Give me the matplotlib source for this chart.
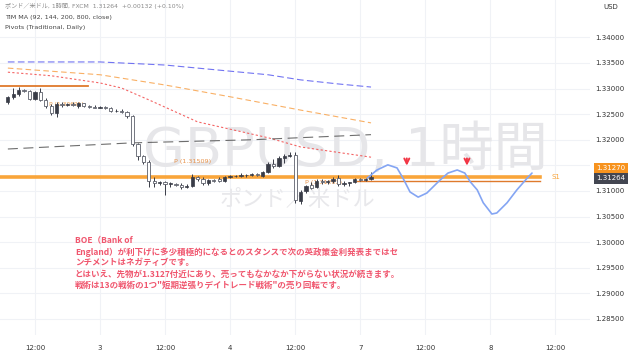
import matplotlib
matplotlib.use("Agg")
import matplotlib.pyplot as plt

plt.rcParams['font.family'] = ['DejaVu Sans', 'Noto Sans CJK JP']

# ---- data (hourly bars, index 0 = day 3 00:00) ----
bar_idx = list(range(-17, 51))
opens = [1.3274, 1.3284, 1.3290, 1.3297, 1.3295, 1.3280, 1.3293, 1.3278, 1.3266, 1.3252,
         1.3270, 1.3268, 1.3270, 1.3266, 1.3272, 1.3266, 1.3264, 1.3263, 1.3264, 1.3262,
         1.3256, 1.3256, 1.3254, 1.3246, 1.3192, 1.3168, 1.3157, 1.3120, 1.3116, 1.3118,
         1.3114, 1.3114, 1.3112, 1.3108, 1.3110, 1.3127, 1.3123, 1.3116, 1.3122, 1.3123,
         1.3120, 1.3127, 1.3129, 1.3129, 1.3131, 1.3131, 1.3133, 1.3129, 1.3137, 1.3153,
         1.3149, 1.3164, 1.3168, 1.3170, 1.3080, 1.3100, 1.3112, 1.3108, 1.3120, 1.3118,
         1.3120, 1.3125, 1.3114, 1.3116, 1.3118, 1.3123, 1.3121, 1.3123]
highs = [1.3285, 1.3301, 1.3303, 1.3299, 1.3297, 1.3295, 1.3301, 1.3282, 1.3270, 1.3274,
         1.3274, 1.3272, 1.3274, 1.3274, 1.3272, 1.3268, 1.3268, 1.3266, 1.3266, 1.3264,
         1.3260, 1.3260, 1.3256, 1.3248, 1.3194, 1.3170, 1.3160, 1.3127, 1.3120, 1.3120,
         1.3118, 1.3116, 1.3116, 1.3114, 1.3133, 1.3129, 1.3127, 1.3123, 1.3123, 1.3127,
         1.3129, 1.3131, 1.3131, 1.3135, 1.3133, 1.3135, 1.3135, 1.3139, 1.3157, 1.3162,
         1.3168, 1.3172, 1.3176, 1.3176, 1.3102, 1.3112, 1.3117, 1.3123, 1.3123, 1.3121,
         1.3127, 1.3131, 1.3120, 1.3118, 1.3125, 1.3125, 1.3125, 1.3137]
lows = [1.3270, 1.3280, 1.3286, 1.3293, 1.3278, 1.3278, 1.3276, 1.3262, 1.3248, 1.3245,
        1.3264, 1.3266, 1.3266, 1.3262, 1.3264, 1.3262, 1.3262, 1.3262, 1.3260, 1.3254,
        1.3254, 1.3252, 1.3243, 1.3188, 1.3160, 1.3153, 1.3107, 1.3108, 1.3112, 1.3092,
        1.3108, 1.3110, 1.3104, 1.3106, 1.3108, 1.3120, 1.3112, 1.3112, 1.3118, 1.3118,
        1.3118, 1.3125, 1.3127, 1.3127, 1.3127, 1.3129, 1.3129, 1.3127, 1.3135, 1.3145,
        1.3147, 1.3155, 1.3166, 1.3077, 1.3075, 1.3096, 1.3104, 1.3106, 1.3114, 1.3114,
        1.3116, 1.3110, 1.3110, 1.3110, 1.3116, 1.3120, 1.3120, 1.3121]
closes = [1.3284, 1.3290, 1.3297, 1.3295, 1.3280, 1.3293, 1.3278, 1.3266, 1.3252, 1.3270,
          1.3268, 1.3270, 1.3268, 1.3272, 1.3266, 1.3264, 1.3263, 1.3264, 1.3262, 1.3256,
          1.3256, 1.3255, 1.3246, 1.3192, 1.3168, 1.3157, 1.3120, 1.3116, 1.3118, 1.3114,
          1.3114, 1.3112, 1.3108, 1.3110, 1.3127, 1.3123, 1.3116, 1.3122, 1.3120, 1.3120,
          1.3127, 1.3129, 1.3129, 1.3131, 1.3131, 1.3133, 1.3131, 1.3137, 1.3153, 1.3149,
          1.3164, 1.3168, 1.3170, 1.3082, 1.3098, 1.3110, 1.3106, 1.3120, 1.3118, 1.3120,
          1.3123, 1.3114, 1.3116, 1.3118, 1.3123, 1.3121, 1.3123, 1.31264]

# moving averages (read at a few bars)
ma_blue_x = [-17, 0, 12, 24, 31, 37, 44, 50]
ma_blue_y = [1.3352, 1.3352, 1.3346, 1.3334, 1.3327, 1.3317, 1.3309, 1.3303]
ma_orange_x = [-17, 0, 12, 24, 37, 50]
ma_orange_y = [1.3340, 1.3327, 1.3307, 1.3284, 1.3258, 1.3233]
ma_red_x = [-17, -9, 0, 4, 9, 18, 31, 37, 50]
ma_red_y = [1.3332, 1.3325, 1.3311, 1.3301, 1.3278, 1.3235, 1.3204, 1.3186, 1.3166]
ma_dark_x = [-17, 6, 28, 50]
ma_dark_y = [1.3182, 1.3194, 1.3200, 1.3210]

# forecast path
fc_x = [49.3, 51.1, 53.1, 54.8, 55.9, 57.2, 58.7, 60.3, 62.7, 64.2, 65.9, 67.3, 68.3,
        69.6, 70.7, 72.3, 73.2, 75.1, 76.9, 78.8, 79.7]
fc_y = [1.3125, 1.3141, 1.3151, 1.3145, 1.3125, 1.3098, 1.3088, 1.3096, 1.3121, 1.3135,
        1.3141, 1.3135, 1.3118, 1.3102, 1.3077, 1.3055, 1.3057, 1.3077, 1.3102, 1.3125, 1.3135]
arrow_x = [56.6, 67.7]

level_price = 1.3127
pivot_r_price = 1.3305
pivot_mon_price = 1.31195
last_price = 1.31264

x_ticks = [-12, 0, 12, 24, 36, 48, 60, 72, 84]
x_labels = ["12:00", "3", "12:00", "4", "12:00", "7", "12:00", "8", "12:00"]
y_ticks = [1.285, 1.290, 1.295, 1.300, 1.305, 1.310, 1.315, 1.320, 1.325, 1.330, 1.335, 1.340]

W, H = 631, 355
fig = plt.figure(figsize=(W / 100, H / 100), dpi=100)
fig.patch.set_facecolor('white')
ax = fig.add_axes([0, 20 / H, 590 / W, 335 / H])
ax.set_xlim(-18.45, 90.4)
ax.set_ylim(1.28187, 1.34730)
for s in ax.spines.values():
    s.set_visible(False)

grid_c = '#f0f2f6'
for yt in y_ticks:
    ax.axhline(yt, color=grid_c, lw=0.8, zorder=0)
for xt in x_ticks:
    ax.axvline(xt, color=grid_c, lw=0.8, zorder=0)

# watermark
ax.text(45.2, 1.3178, "GBPUSD, 1時間", fontsize=39, color='#e6e6e9', ha='center',
        va='center', zorder=0.5)
ax.text(36.5, 1.30824, "ポンド／米ドル", fontsize=16, color='#e8e8eb', ha='center',
        va='center', zorder=0.5, family=['Noto Sans CJK JP', 'DejaVu Sans'])

# moving averages
ax.plot(ma_blue_x, ma_blue_y, color='#5a5cf0', lw=0.8, dashes=(6, 3), alpha=0.85, zorder=2)
ax.plot(ma_orange_x, ma_orange_y, color='#f8a24a', lw=0.8, dashes=(5, 3), alpha=0.85, zorder=2)
ax.plot(ma_red_x, ma_red_y, color='#f24a4a', lw=0.8, dashes=(2, 2), alpha=0.85, zorder=2)
ax.plot(ma_dark_x, ma_dark_y, color='#555555', lw=0.8, dashes=(9, 5), alpha=0.85, zorder=2)

# pivots / levels
ax.axhline(level_price, xmin=0, xmax=(81.1 + 18.45) / (90.4 + 18.45), color='#f9a53a',
           lw=2.6, zorder=2)
ax.plot([-18.45, -2.2], [pivot_r_price, pivot_r_price], color='#df7a2c', lw=1.3, zorder=2)
ax.plot([47.5, 81.1], [pivot_mon_price, pivot_mon_price], color='#df7a2c', lw=1.0, zorder=2)
ax.text(-9.5, 1.3269, "P (1.32691)", fontsize=4.3, color='#e89a4a', va='center', zorder=2)
ax.text(13.6, 1.3158, "P (1.31509)", fontsize=4.6, color='#e8924a', va='center', zorder=2)
ax.text(37.8, 1.31165, "P (1.31203)", fontsize=4.6, color='#e8924a', va='center', zorder=2)
ax.text(83.3, level_price, "S1", fontsize=5, color='#f9a53a', va='center', zorder=2)

# candles
dark = '#393c47'
for i, o, h, l, c in zip(bar_idx, opens, highs, lows, closes):
    ax.vlines(i, l, h, color=dark, lw=0.7, zorder=3)
    bot = min(o, c)
    ht = max(abs(c - o), 0.00008)
    if c >= o:
        ax.bar(i, ht, bottom=bot, width=0.6, color=dark, edgecolor=dark, lw=0.5, zorder=4)
    else:
        ax.bar(i, ht, bottom=bot, width=0.6, color='white', edgecolor='#5d606b', lw=0.6, zorder=4)

# forecast
ax.plot(fc_x, fc_y, color='#84a5f3', lw=1.2, zorder=5, solid_capstyle='round')
for ax_x in arrow_x:
    ax.annotate('', xy=(ax_x, 1.31440), xytext=(ax_x, 1.31690),
                arrowprops=dict(arrowstyle='->', color='#f23645', lw=1.4,
                                mutation_scale=9), zorder=6)

# axes ticks
ax.set_xticks(x_ticks)
ax.set_xticklabels(x_labels)
ax.set_yticks(y_ticks)
ax.set_yticklabels([f"{v:.5f}" for v in y_ticks])
ax.yaxis.tick_right()
ax.tick_params(axis='both', length=0, labelsize=5, colors='#333333')
ax.tick_params(axis='x', pad=7)
ax.tick_params(axis='y', pad=4)

# header
fig.text(5 / W, 1 - 6 / H, "ポンド／米ドル, 1時間, FXCM  1.31264  +0.00132 (+0.10%)",
         fontsize=4.4, color='#8a8a8a', va='center', ha='left')
fig.text(5 / W, 1 - 17 / H, "TIM MA (92, 144, 200, 800, close)", fontsize=4.6,
         color='#444444', va='center', ha='left')
fig.text(5 / W, 1 - 27 / H, "Pivots (Traditional, Daily)", fontsize=4.6,
         color='#444444', va='center', ha='left')
fig.text(611 / W, 1 - 7 / H, "USD", fontsize=5, color='#333333', va='center', ha='center')

# price labels
fig.text(611 / W, 1 - 168 / H, "1.31270", fontsize=5, color='white', va='center',
         ha='center', bbox=dict(boxstyle='square,pad=0.35', fc='#f7931e', ec='none'))
fig.text(611 / W, 1 - 178.5 / H, "1.31264", fontsize=5, color='white', va='center',
         ha='center', bbox=dict(boxstyle='square,pad=0.35', fc='#434651', ec='none'))

# annotation
lines = ["BOE（Bank of",
         "England）が利下げに多少積極的になるとのスタンスで次の英政策金利発表まではセ",
         "ンチメントはネガティブです。",
         "とはいえ、先物が1.3127付近にあり、売ってもなかなか下がらない状況が続きます。",
         "戦術は13の戦術の1つ\"短期逆張りデイトレード戦術\"の売り回転です。"]
for k, t in enumerate(lines):
    fig.text(75 / W, 1 - (241 + 11 * k) / H, t, fontsize=6.1, color='#f0566e',
             va='center', ha='left', fontweight='bold',
             family=['Noto Sans CJK JP', 'DejaVu Sans'])

fig.savefig('out.png', dpi=100, facecolor='white')
